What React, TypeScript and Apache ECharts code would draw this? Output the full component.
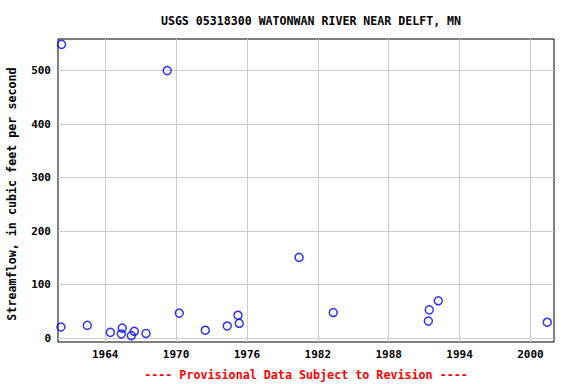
import React, { useEffect, useRef } from "react";
import * as echarts from "echarts";

const titleText = "USGS 05318300 WATONWAN RIVER NEAR DELFT, MN";
const yAxisTitle = "Streamflow, in cubic feet per second";
const footerText = "---- Provisional Data Subject to Revision ----";

const years = [
  1960.3, 1960.25, 1962.48, 1964.43, 1965.44, 1965.36, 1966.21, 1966.46, 1967.45,
  1969.25, 1970.27, 1972.47, 1974.33, 1975.24, 1975.35, 1980.41, 1983.31,
  1991.36, 1991.44, 1992.2, 2001.43,
];
const flows = [
  549, 21, 24, 11, 19, 8, 5, 13, 9,
  500, 47, 15, 23, 43, 28, 151, 48,
  32, 53, 70, 30,
];
const xTicks = [1964, 1970, 1976, 1982, 1988, 1994, 2000];
const yTicks = [0, 100, 200, 300, 400, 500];

const FONT = "'DejaVu Sans Mono', 'Liberation Mono', monospace";

export default function App() {
  const ref = useRef<HTMLDivElement>(null);
  useEffect(() => {
    if (!ref.current) return;
    const chart = echarts.init(ref.current, undefined, { renderer: "svg" });
    const data = years.map((y, i) => [y, flows[i]]);
    chart.setOption({
      animation: false,
      backgroundColor: "#ffffff",
      title: {
        text: titleText,
        left: 306,
        top: 10,
        textAlign: "center",
        textStyle: { fontFamily: FONT, fontSize: 11.6, fontWeight: "bold", color: "#000" },
      },
      graphic: [
        {
          type: "text",
          x: 306,
          y: 375,
          style: {
            text: footerText,
            fill: "#ff0000",
            font: `bold 11.7px ${FONT}`,
            textAlign: "center",
            textVerticalAlign: "middle",
          },
        },
        {
          type: "text",
          x: 12,
          y: 194,
          rotation: Math.PI / 2,
          style: {
            text: yAxisTitle,
            fill: "#000",
            font: `bold 11.7px ${FONT}`,
            textAlign: "center",
            textVerticalAlign: "middle",
          },
        },
      ],
      grid: {
        left: 58,
        right: 22,
        top: 39,
        bottom: 42,
        show: true,
        borderColor: "#000",
        borderWidth: 1,
        backgroundColor: "transparent",
      },
      xAxis: {
        type: "value",
        min: 1960,
        max: 2002,
        axisLine: { show: false },
        axisTick: { show: false, customValues: xTicks },
        axisLabel: {
          customValues: xTicks,
          formatter: (v: number) => String(v),
          fontFamily: FONT,
          fontSize: 11,
          fontWeight: "bold",
          color: "#000",
          margin: 7,
        },
        splitLine: { show: true, lineStyle: { color: "#cccccc", width: 1 } },
      },
      yAxis: {
        type: "value",
        min: -7,
        max: 559,
        axisLine: { show: false },
        axisTick: { show: false, customValues: yTicks },
        axisLabel: {
          customValues: yTicks,
          formatter: (v: number) => String(v),
          fontFamily: FONT,
          fontSize: 11,
          fontWeight: "bold",
          color: "#000",
          margin: 7,
        },
        splitLine: { show: true, lineStyle: { color: "#cccccc", width: 1 } },
      },
      series: [
        {
          type: "scatter",
          data,
          symbol: "circle",
          symbolSize: 8,
          itemStyle: { color: "rgba(0,0,0,0)", borderColor: "#0000ff", borderWidth: 1.5 },
          emphasis: { disabled: true },
        },
      ],
    });
    return () => chart.dispose();
  }, []);
  return <div ref={ref} style={{ width: 576, height: 384, position: "absolute", left: 0, top: 0 }} />;
}
